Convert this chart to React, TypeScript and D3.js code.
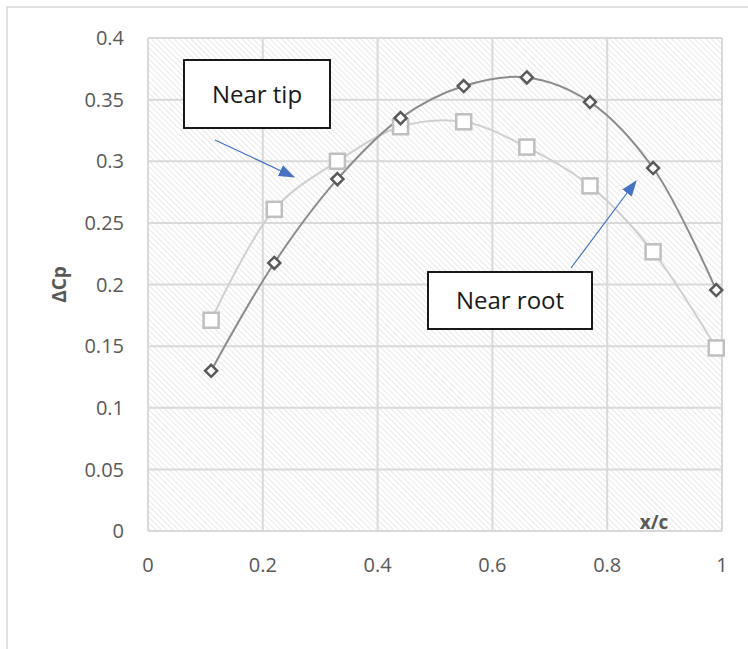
import * as d3 from "d3";
import { useEffect, useRef } from "react";

const xPos = [0.11, 0.22, 0.33, 0.44, 0.55, 0.66, 0.77, 0.88, 0.99];
const nearRoot = [0.13, 0.2175, 0.2855, 0.335, 0.361, 0.368, 0.348, 0.2945, 0.1955];
const nearTip = [0.171, 0.261, 0.3, 0.328, 0.332, 0.3115, 0.28, 0.2265, 0.1485];
const xTicks = [0, 0.2, 0.4, 0.6, 0.8, 1];
const yTicks = [0, 0.05, 0.1, 0.15, 0.2, 0.25, 0.3, 0.35, 0.4];

const W = 748;
const H = 649;
const FONT = "'Open Sans', 'Liberation Sans', sans-serif";

const App = () => {
  const ref = useRef<SVGSVGElement | null>(null);

  useEffect(() => {
    if (!ref.current) return;
    const svg = d3.select(ref.current);
    svg.selectAll("*").remove();

    const margin = { top: 38, right: 26, bottom: 118, left: 148 };
    const x = d3.scaleLinear().domain([0, 1]).range([margin.left, W - margin.right]);
    const y = d3.scaleLinear().domain([0, 0.4]).range([H - margin.bottom, margin.top]);

    // chart border
    svg.append("rect")
      .attr("x", 7).attr("y", 7).attr("width", W).attr("height", H)
      .attr("fill", "#fff").attr("stroke", "#d9d9d9").attr("stroke-width", 1.5);

    const defs = svg.append("defs");
    const pat = defs.append("pattern")
      .attr("id", "hatch")
      .attr("patternUnits", "userSpaceOnUse")
      .attr("width", 4).attr("height", 4)
      .attr("patternTransform", "rotate(45)");
    pat.append("rect").attr("width", 4).attr("height", 4).attr("fill", "#fff");
    pat.append("line")
      .attr("x1", 0).attr("y1", 0).attr("x2", 4).attr("y2", 0)
      .attr("stroke", "#e0e0e0").attr("stroke-width", 1.4);

    const arrow = defs.append("marker")
      .attr("id", "arrowHead")
      .attr("viewBox", "0 0 16 12")
      .attr("refX", 15).attr("refY", 6)
      .attr("markerWidth", 16).attr("markerHeight", 12)
      .attr("markerUnits", "userSpaceOnUse")
      .attr("orient", "auto");
    arrow.append("path").attr("d", "M0,0 L16,6 L0,12 z").attr("fill", "#4472c4");

    const [x0, x1] = x.range();
    const [y0, y1] = y.range();
    svg.append("rect")
      .attr("x", x0).attr("y", y1).attr("width", x1 - x0).attr("height", y0 - y1)
      .attr("fill", "url(#hatch)");

    // grid
    const grid = svg.append("g").attr("stroke", "#d9d9d9").attr("stroke-width", 2);
    grid.selectAll("line.v").data(xTicks).join("line")
      .attr("x1", (d) => x(d)).attr("x2", (d) => x(d))
      .attr("y1", y1).attr("y2", y0);
    grid.selectAll("line.h").data(yTicks).join("line")
      .attr("x1", x0).attr("x2", x1)
      .attr("y1", (d) => y(d)).attr("y2", (d) => y(d));

    // tick labels
    svg.append("g").selectAll("text").data(yTicks).join("text")
      .attr("x", x0 - 24).attr("y", (d) => y(d)).attr("dy", "0.36em")
      .attr("text-anchor", "end")
      .attr("font-family", FONT).attr("font-size", 20).attr("fill", "#595959")
      .text((d) => d3.format("")(d));
    svg.append("g").selectAll("text").data(xTicks).join("text")
      .attr("x", (d) => x(d)).attr("y", y0 + 41)
      .attr("text-anchor", "middle")
      .attr("font-family", FONT).attr("font-size", 20).attr("fill", "#595959")
      .text((d) => d3.format("")(d));

    // axis titles
    svg.append("text")
      .attr("transform", `translate(66,${y(0.2)}) rotate(-90)`)
      .attr("text-anchor", "middle")
      .attr("font-family", FONT).attr("font-size", 19).attr("font-weight", "bold")
      .attr("fill", "#595959").text("ΔCp");
    svg.append("text")
      .attr("x", 654).attr("y", 529)
      .attr("text-anchor", "middle")
      .attr("font-family", FONT).attr("font-size", 19).attr("font-weight", "bold")
      .attr("fill", "#595959").text("x/c");

    const line = d3.line<number>()
      .x((_, i) => x(xPos[i]))
      .y((d) => y(d))
      .curve(d3.curveCatmullRom.alpha(0.5));

    svg.append("path").datum(nearTip).attr("d", line)
      .attr("fill", "none").attr("stroke", "#cfcfcf").attr("stroke-width", 2);
    svg.append("path").datum(nearRoot).attr("d", line)
      .attr("fill", "none").attr("stroke", "#8c8c8c").attr("stroke-width", 2);

    const sq = 15;
    svg.append("g").selectAll("rect").data(nearTip).join("rect")
      .attr("x", (_, i) => x(xPos[i]) - sq / 2)
      .attr("y", (d) => y(d) - sq / 2)
      .attr("width", sq).attr("height", sq)
      .attr("fill", "#fff").attr("stroke", "#bfbfbf").attr("stroke-width", 2.5);

    const dm = 6;
    svg.append("g").selectAll("path").data(nearRoot).join("path")
      .attr("d", (d, i) => {
        const cx = x(xPos[i]);
        const cy = y(d);
        return `M${cx},${cy - dm}L${cx + dm},${cy}L${cx},${cy + dm}L${cx - dm},${cy}Z`;
      })
      .attr("fill", "#fff").attr("stroke", "#595959").attr("stroke-width", 2.5);

    // annotations
    svg.append("line")
      .attr("x1", 215).attr("y1", 140).attr("x2", 294).attr("y2", 177)
      .attr("stroke", "#4472c4").attr("stroke-width", 1.2)
      .attr("marker-end", "url(#arrowHead)");
    svg.append("line")
      .attr("x1", 571).attr("y1", 268).attr("x2", 636).attr("y2", 181)
      .attr("stroke", "#4472c4").attr("stroke-width", 1.2)
      .attr("marker-end", "url(#arrowHead)");

    const boxes = [
      { label: "Near tip", bx: 184, by: 60, bw: 146, bh: 68 },
      { label: "Near root", bx: 428, by: 272, bw: 164, bh: 57 },
    ];
    boxes.forEach((b) => {
      svg.append("rect")
        .attr("x", b.bx).attr("y", b.by).attr("width", b.bw).attr("height", b.bh)
        .attr("fill", "#fff").attr("stroke", "#000").attr("stroke-width", 1.8);
      svg.append("text")
        .attr("x", b.bx + b.bw / 2).attr("y", b.by + b.bh / 2).attr("dy", "0.36em")
        .attr("text-anchor", "middle")
        .attr("font-family", FONT).attr("font-size", 24).attr("fill", "#1a1a1a")
        .text(b.label);
    });
  }, []);

  return (
    <svg
      ref={ref}
      width={W}
      height={H}
      style={{ position: "absolute", left: 0, top: 0, display: "block", background: "#fff" }}
    />
  );
};

export default App;
